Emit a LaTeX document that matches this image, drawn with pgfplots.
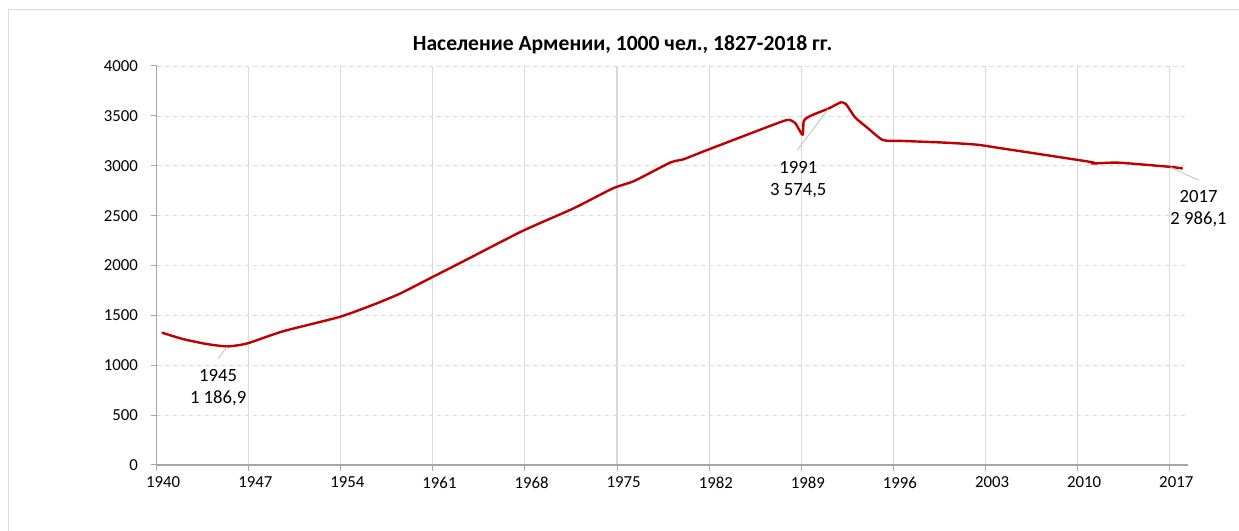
\documentclass[border=0pt]{standalone}
\usepackage{fontspec}
\setmainfont{Carlito}
\usepackage{pgfplots}
\pgfplotsset{compat=1.18}
\definecolor{linered}{HTML}{C00000}
\definecolor{gridgray}{HTML}{D9D9D9}
\definecolor{axgray}{HTML}{A6A6A6}
\definecolor{leadgray}{HTML}{BFBFBF}
\pgfplotstableread{
year value
1940.4 1327
1942.0 1263
1943.8 1213
1945.4 1189
1946.9 1219
1949.6 1340
1953.9 1484
1956.5 1608
1958.5 1718
1960.85 1876
1963.1 2027
1967.8 2345
1971.7 2573
1974.7 2774
1976.3 2847
1979.05 3032
1980.06 3065
1981.7 3150
1987.2 3427
1988.05 3460
1988.55 3427
1989.1 3310
1989.2 3450
1989.7 3500
1991.1 3575
1992.0 3635
1992.4 3618
1993.1 3484
1994.0 3384
1995.2 3258
1996.6 3249
1999.7 3233
2002.3 3212
2004.2 3175
2011.0 3038
2011.1 3022
2013.1 3031
2017.1 2988
2018.0 2972
}\popdata
\begin{document}
\fontsize{12.6}{15}\selectfont
\begin{tikzpicture}
\path[use as bounding box] (0,0) rectangle (929.25pt,398.25pt);
\draw[gridgray, line width=0.75pt] (6pt,0) -- (6pt,390.75pt) -- (929.25pt,390.75pt);
\node[font=\fontsize{16.2}{19}\selectfont\bfseries] at (467pt,364.5pt) {Население Армении, 1000 чел., 1827-2018 гг.};
\begin{axis}[at={(117.4pt,49.5pt)}, anchor=south west, scale only axis,
  width=773.6pt, height=299.25pt,
  xmin=1940, xmax=2018.4, ymin=0, ymax=4000,
  xtick={1940,1947,...,2017}, ytick={0,500,...,4000},
  axis x line*=bottom, axis y line*=left,
  axis line style={axgray, line width=1pt, -},
  tick align=outside, major tick length=4.5pt,
  tick style={axgray, line width=0.75pt},
  xmajorgrids, ymajorgrids,
  x grid style={gridgray, line width=0.8pt},
  y grid style={gridgray, dashed, line width=0.5pt},
  /pgf/number format/assume math mode=true,
  /pgf/number format/1000 sep={},
  tick label style={font=\fontsize{12.6}{15}\selectfont, text=black},
  xticklabel style={xshift=5pt},
  yticklabel style={xshift=-5pt},
  clip=false]
\addplot[linered, line width=1.8pt, smooth, tension=0.35, line join=round] table[x=year, y=value] {\popdata};
\draw[leadgray, line width=0.6pt] (axis cs:1944.68,1065) -- (axis cs:1945.36,1186);
\node[align=center, font=\fontsize{14}{16.5}\selectfont] at (axis cs:1944.68,774) {1945\\1 186,9};
\draw[leadgray, line width=0.6pt] (axis cs:1988.7,3156) -- (axis cs:1991.05,3568);
\node[align=center, font=\fontsize{14}{16.5}\selectfont] at (axis cs:1988.78,2864) {1991\\3 574,5};
\draw[leadgray, line width=0.6pt] (axis cs:2017.07,2985) -- (axis cs:2019.2,2854);
\node[align=center, font=\fontsize{14}{16.5}\selectfont] at (axis cs:2019.2,2573) {2017\\2 986,1};
\end{axis}
\end{tikzpicture}
\end{document}
